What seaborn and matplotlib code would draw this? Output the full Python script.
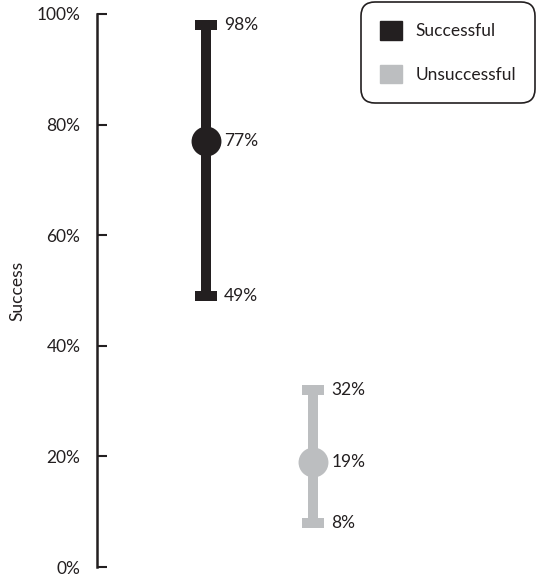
import matplotlib
matplotlib.use("Agg")
import matplotlib.pyplot as plt
import seaborn as sns
import pandas as pd
from matplotlib.patches import Patch

# Outcome groups with lower bound, point estimate and upper bound (%)
groups = ["Successful", "Unsuccessful"]
low = [49, 8]
mid = [77, 19]
high = [98, 32]
colors = ["#231f20", "#bcbec0"]
yticks = [0, 20, 40, 60, 80, 100]
ytick_labels = ["0%", "20%", "40%", "60%", "80%", "100%"]

sns.set_theme(style="white")
plt.rcParams["font.family"] = ["Lato", "DejaVu Sans"]
INK = "#231f20"
FS = 12.5

# long-form table: three values per group so the median is the estimate
rows = []
for g, lo, m, hi in zip(groups, low, mid, high):
    for v in (lo, m, hi):
        rows.append({"group": g, "value": v})
df = pd.DataFrame(rows)

fig = plt.figure(figsize=(5.42, 5.75), dpi=100)
ax = fig.add_axes([97 / 542, 8 / 575, (542 - 97) / 542, 553 / 575])

sns.pointplot(
    data=df, x="group", y="value", hue="group", order=groups,
    hue_order=groups, palette=colors, estimator="median",
    errorbar=lambda v: (v.min(), v.max()), linestyle="none",
    markersize=19.5, capsize=0.2, err_kws={"linewidth": 7.2},
    legend=False, ax=ax,
)
for ln in ax.lines:
    ln.set_clip_on(False)
    ln.set_solid_capstyle("butt")
    ys = ln.get_ydata()
    if len(ys) == 2 and ys[0] == ys[1]:
        ln.set_linewidth(4.0)
for col in ax.collections:
    col.set_clip_on(False)

ax.set_xlim(-1.02, 3.14)
ax.set_ylim(0, 100)
ax.set_yticks(yticks)
ax.set_yticklabels(ytick_labels, fontsize=FS, color=INK)
ax.set_xticks([])
ax.set_xlabel("")
ax.set_ylabel("")
ax.tick_params(axis="y", direction="in", length=7, width=1.5,
               color=INK, pad=12, left=True)
for side in ["top", "right", "bottom"]:
    ax.spines[side].set_visible(False)
ax.spines["left"].set_linewidth(1.8)
ax.spines["left"].set_color(INK)

fig.text(17 / 542, 1 - 291 / 575, "Success", rotation=90, ha="center",
         va="center", fontsize=FS, color=INK)

# value labels beside each interval
for i, (lo, m, hi) in enumerate(zip(low, mid, high)):
    for v in (lo, m, hi):
        ax.annotate(f"{v}%", xy=(i, v), xytext=(13, 0),
                    textcoords="offset points", va="center", ha="left",
                    fontsize=FS, color=INK)

handles = [Patch(facecolor=c, edgecolor=c, label=g) for g, c in zip(groups, colors)]
leg = fig.legend(
    handles=handles, loc="upper left", bbox_to_anchor=(361 / 542, 1 - 2 / 575),
    borderaxespad=0, frameon=True, fontsize=FS, handlelength=1.27,
    handleheight=1.27, handletextpad=0.75, labelspacing=1.45, borderpad=1.1,
    fancybox=True, edgecolor=INK, framealpha=1,
)
leg.get_frame().set_linewidth(1.2)
leg.get_frame().set_boxstyle("round", pad=0, rounding_size=0.8)
for t in leg.get_texts():
    t.set_color(INK)

fig.savefig("out.png", dpi=100)
